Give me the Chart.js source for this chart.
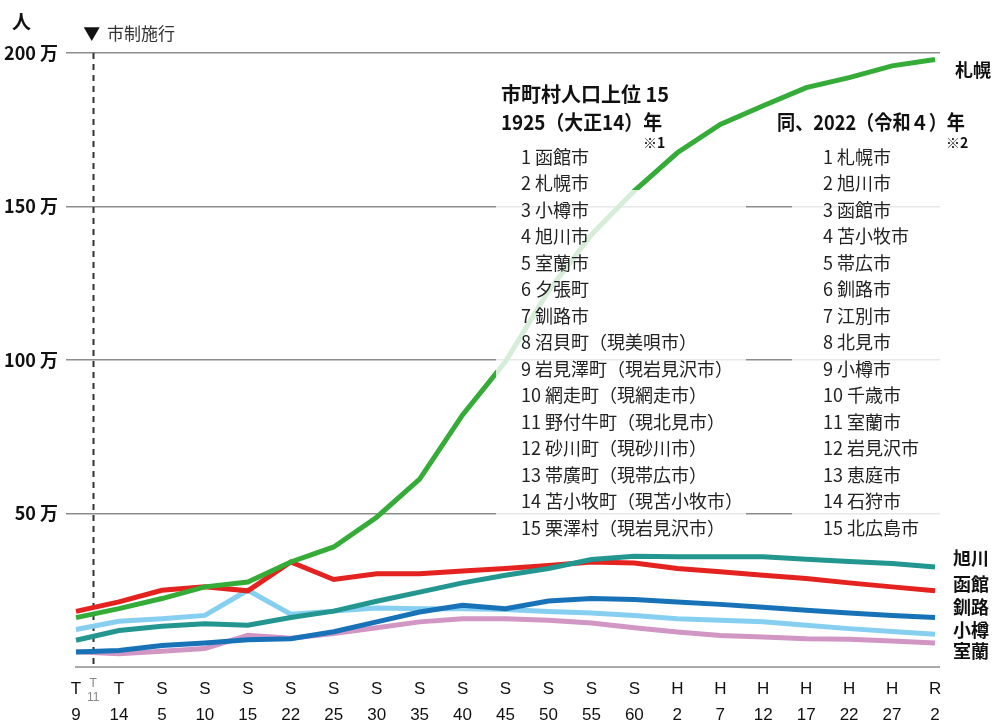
<!DOCTYPE html>
<html>
<head>
<meta charset="utf-8">
<script src="https://cdn.jsdelivr.net/npm/chart.js@4"></script>
<style>
  body { margin: 0; background: #fff; }
  canvas { display: block; }
</style>
</head>
<body>
<canvas id="popChart" width="1000" height="728"></canvas>
<script>
// 年次（元号の頭文字と年）
var eraLetters = ['T', 'T', 'S', 'S', 'S', 'S', 'S', 'S', 'S', 'S', 'S', 'S', 'S', 'S', 'H', 'H', 'H', 'H', 'H', 'H', 'R'];
var eraYears = ['9', '14', '5', '10', '15', '22', '25', '30', '35', '40', '45', '50', '55', '60', '2', '7', '12', '17', '22', '27', '2'];

// 人口（万人）
var sapporo = [16.1, 19.0, 22.3, 26.1, 27.7, 34.2, 39.1, 48.8, 61.2, 82.1, 99.5, 122.5, 140.8, 155.1, 167.5, 176.7, 182.8, 188.7, 192.0, 195.8, 197.9];
var asahikawa = [8.7, 11.9, 13.3, 14.1, 13.6, 16.1, 18.2, 21.4, 24.4, 27.4, 29.9, 32.1, 35.0, 36.1, 35.9, 35.9, 35.9, 35.1, 34.4, 33.7, 32.6];
var hakodate = [18.1, 21.2, 25.0, 26.1, 24.8, 34.2, 28.5, 30.4, 30.4, 31.3, 32.1, 33.1, 34.2, 33.9, 32.1, 31.0, 29.9, 28.8, 27.4, 26.1, 24.8];
var kushiro = [4.9, 5.4, 7.0, 7.8, 8.9, 9.2, 11.5, 14.7, 17.9, 20.1, 19.0, 21.5, 22.3, 22.0, 21.2, 20.4, 19.5, 18.5, 17.6, 16.8, 16.1];
var otaru = [12.2, 14.9, 15.7, 16.8, 25.0, 17.2, 18.2, 19.2, 19.0, 19.0, 18.7, 18.1, 17.6, 16.8, 15.7, 15.2, 14.7, 13.6, 12.5, 11.6, 10.7];
var muroran = [5.0, 4.3, 5.1, 6.0, 10.3, 9.4, 10.9, 12.8, 14.7, 15.7, 15.7, 15.2, 14.3, 12.8, 11.4, 10.3, 9.8, 9.2, 9.0, 8.5, 7.8];

// 市制施行（T11）の位置
var shiseiPos = 0.4;

var rank1925 = ['1 函館市', '2 札幌市', '3 小樽市', '4 旭川市', '5 室蘭市', '6 夕張町', '7 釧路市',
  '8 沼貝町（現美唄市）', '9 岩見澤町（現岩見沢市）', '10 網走町（現網走市）', '11 野付牛町（現北見市）',
  '12 砂川町（現砂川市）', '13 帯廣町（現帯広市）', '14 苫小牧町（現苫小牧市）', '15 栗澤村（現岩見沢市）'];
var rank2022 = ['1 札幌市', '2 旭川市', '3 函館市', '4 苫小牧市', '5 帯広市', '6 釧路市', '7 江別市', '8 北見市',
  '9 小樽市', '10 千歳市', '11 室蘭市', '12 岩見沢市', '13 恵庭市', '14 石狩市', '15 北広島市'];

var JP = "'Noto Sans CJK JP', 'Noto Sans', sans-serif";

function toPoints(arr) {
  return arr.map(function (v, i) { return { x: i, y: v }; });
}

function line(label, arr, color) {
  return {
    label: label,
    data: toPoints(arr),
    borderColor: color,
    backgroundColor: color,
    borderWidth: 5,
    pointRadius: 0,
    tension: 0,
    fill: false
  };
}

// 文字・補助線・表の描画
var overlayPlugin = {
  id: 'overlay',
  beforeDatasetsDraw: function (chart) {
    var ctx = chart.ctx;
    var xs = chart.scales.x;
    var ys = chart.scales.y;
    var area = chart.chartArea;
    ctx.save();
    // 下の軸線
    ctx.strokeStyle = '#8c8c8c';
    ctx.lineWidth = 1.5;
    ctx.beginPath();
    ctx.moveTo(xs.getPixelForValue(0) - 1, ys.getPixelForValue(0));
    ctx.lineTo(area.right, ys.getPixelForValue(0));
    ctx.stroke();
    // 市制施行の点線
    var px = Math.round(xs.getPixelForValue(shiseiPos)) + 0.5;
    ctx.strokeStyle = '#333';
    ctx.lineWidth = 2;
    ctx.setLineDash([6, 5]);
    ctx.beginPath();
    ctx.moveTo(px, ys.getPixelForValue(200));
    ctx.lineTo(px, ys.getPixelForValue(0));
    ctx.stroke();
    ctx.restore();
  },
  afterDatasetsDraw: function (chart) {
    var ctx = chart.ctx;
    var xs = chart.scales.x;
    ctx.save();
    // 表の下地
    ctx.fillStyle = 'rgba(255,255,255,0.8)';
    ctx.fillRect(496, 190, 250, 355);
    ctx.fillRect(792, 145, 160, 400);

    ctx.fillStyle = '#111';
    ctx.textBaseline = 'middle';
    ctx.textAlign = 'left';

    ctx.font = 'bold 19px ' + JP;
    ctx.fillText('人', 12, 22);

    ctx.font = '17px ' + JP;
    ctx.fillStyle = '#111';
    ctx.fillText('▼', xs.getPixelForValue(shiseiPos) - 10, 34);
    ctx.fillStyle = '#333';
    ctx.fillText('市制施行', 107, 34);

    // 1925年
    ctx.fillStyle = '#111';
    ctx.font = 'bold 20px ' + JP;
    ctx.fillText('市町村人口上位 15', 501, 94, 177);
    ctx.fillText('1925（大正14）年', 501, 122, 161);
    ctx.font = 'bold 14px ' + JP;
    ctx.fillText('※1', 643, 143);
    ctx.font = '18px ' + JP;
    ctx.fillStyle = '#222';
    rank1925.forEach(function (t, i) {
      ctx.fillText(t, 521, 157 + i * 26.5);
    });

    // 2022年
    ctx.fillStyle = '#111';
    ctx.font = 'bold 20px ' + JP;
    ctx.fillText('同、2022（令和４）年', 777, 122, 188);
    ctx.font = 'bold 14px ' + JP;
    ctx.fillText('※2', 946, 143);
    ctx.font = '18px ' + JP;
    ctx.fillStyle = '#222';
    rank2022.forEach(function (t, i) {
      ctx.fillText(t, 823, 157 + i * 26.5);
    });

    // 右端の市名
    ctx.fillStyle = '#111';
    ctx.font = 'bold 18px ' + JP;
    ctx.fillText('札幌', 955, 70);
    ctx.fillText('旭川', 953, 558);
    ctx.fillText('函館', 953, 584);
    ctx.fillText('釧路', 953, 607);
    ctx.fillText('小樽', 953, 630);
    ctx.fillText('室蘭', 953, 651);
    ctx.restore();
  }
};

new Chart(document.getElementById('popChart'), {
  type: 'line',
  data: {
    datasets: [
      line('札幌', sapporo, '#35ab38'),
      line('旭川', asahikawa, '#22968f'),
      line('函館', hakodate, '#e4221f'),
      line('釧路', kushiro, '#1872b8'),
      line('小樽', otaru, '#86cff1'),
      line('室蘭', muroran, '#d296c4')
    ]
  },
  options: {
    responsive: false,
    animation: false,
    layout: { padding: { top: 53, right: 60, left: 0, bottom: 0 } },
    plugins: {
      legend: { display: false },
      tooltip: { enabled: false }
    },
    scales: {
      x: {
        type: 'linear',
        min: -0.233,
        max: 20.116,
        afterFit: function (scale) { scale.height = 61; },
        afterBuildTicks: function (scale) {
          var t = [];
          for (var i = 0; i < eraLetters.length; i++) {
            t.push({ value: i });
            if (i === 0) t.push({ value: shiseiPos });
          }
          scale.ticks = t;
        },
        grid: { display: false, drawTicks: false },
        border: { display: false },
        ticks: {
          autoSkip: false,
          maxRotation: 0,
          padding: 9,
          color: function (c) {
            return c.tick && c.tick.value === shiseiPos ? '#888' : '#111';
          },
          font: function (c) {
            if (c.tick && c.tick.value === shiseiPos) {
              return { family: "'Liberation Sans', Arial, sans-serif", size: 12, lineHeight: 1.2 };
            }
            return { family: "'Liberation Sans', Arial, sans-serif", size: 17, lineHeight: 1.55 };
          },
          callback: function (v) {
            if (v === shiseiPos) return ['T', '11'];
            return [eraLetters[v], eraYears[v]];
          }
        }
      },
      y: {
        min: 0,
        max: 200,
        afterFit: function (scale) { scale.width = 66; },
        grid: {
          drawTicks: false,
          lineWidth: 1.5,
          color: function (c) {
            return c.tick && c.tick.value === 0 ? 'rgba(0,0,0,0)' : '#8c8c8c';
          }
        },
        border: { display: false },
        ticks: {
          stepSize: 50,
          padding: 8,
          color: '#111',
          font: { family: JP, size: 18, weight: 'bold' },
          callback: function (v) {
            return v === 0 ? '' : v + ' 万';
          }
        }
      }
    }
  },
  plugins: [overlayPlugin]
});
</script>
</body>
</html>
